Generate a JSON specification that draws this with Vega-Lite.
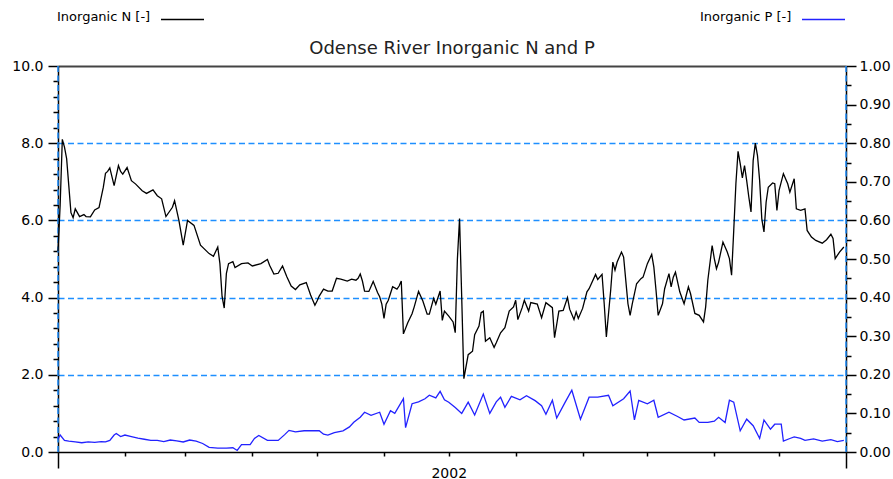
{
"$schema": "https://vega.github.io/schema/vega-lite/v6.json",
"width": 788, "height": 386,
"autosize": {"type": "none"},
"padding": {"left": 58, "top": 66, "right": 47, "bottom": 27},
"background": "white",
"config": {"view": {"stroke": null}, "font": "DejaVu Sans", "axis": {"labelFont": "DejaVu Sans", "labelColor": "#000", "domainColor": "#000", "tickColor": "#000"}},
"title": {"text": "Odense River Inorganic N and P", "fontSize": 18, "font": "DejaVu Sans", "fontWeight": "normal", "color": "#222", "offset": -61, "anchor": "middle"},
"datasets": {
"N": [
{"date":"2002-01-01","N":5.2},{"date":"2002-01-02","N":6.4},{"date":"2002-01-03","N":8.1},{"date":"2002-01-04","N":7.9},{"date":"2002-01-05","N":7.6},{"date":"2002-01-06","N":6.9},{"date":"2002-01-07","N":6.2},{"date":"2002-01-08","N":6.07},{"date":"2002-01-09","N":6.3},{"date":"2002-01-11","N":6.1},{"date":"2002-01-13","N":6.15},{"date":"2002-01-14","N":6.1},{"date":"2002-01-16","N":6.09},{"date":"2002-01-18","N":6.27},{"date":"2002-01-20","N":6.33},{"date":"2002-01-22","N":6.86},{"date":"2002-01-23","N":7.22},{"date":"2002-01-24","N":7.27},{"date":"2002-01-25","N":7.36},{"date":"2002-01-27","N":6.9},{"date":"2002-01-29","N":7.42},{"date":"2002-01-30","N":7.27},{"date":"2002-01-31","N":7.2},
{"date":"2002-02-02","N":7.37},{"date":"2002-02-04","N":7.03},{"date":"2002-02-06","N":6.94},{"date":"2002-02-09","N":6.77},{"date":"2002-02-11","N":6.7},{"date":"2002-02-14","N":6.79},{"date":"2002-02-16","N":6.64},{"date":"2002-02-18","N":6.56},{"date":"2002-02-20","N":6.1},{"date":"2002-02-23","N":6.34},{"date":"2002-02-24","N":6.51},{"date":"2002-02-26","N":6.0},{"date":"2002-02-28","N":5.36},
{"date":"2002-03-02","N":6.0},{"date":"2002-03-05","N":5.87},{"date":"2002-03-08","N":5.36},{"date":"2002-03-12","N":5.14},{"date":"2002-03-14","N":5.07},{"date":"2002-03-16","N":5.31},{"date":"2002-03-17","N":4.88},{"date":"2002-03-18","N":4.03},{"date":"2002-03-19","N":3.73},{"date":"2002-03-20","N":4.63},{"date":"2002-03-21","N":4.88},{"date":"2002-03-23","N":4.93},{"date":"2002-03-24","N":4.78},{"date":"2002-03-27","N":4.88},{"date":"2002-03-30","N":4.9},
{"date":"2002-04-01","N":4.82},{"date":"2002-04-05","N":4.88},{"date":"2002-04-08","N":4.99},{"date":"2002-04-09","N":4.84},{"date":"2002-04-11","N":4.61},{"date":"2002-04-13","N":4.63},{"date":"2002-04-15","N":4.82},{"date":"2002-04-17","N":4.54},{"date":"2002-04-19","N":4.3},{"date":"2002-04-21","N":4.21},{"date":"2002-04-23","N":4.33},{"date":"2002-04-26","N":4.39},{"date":"2002-04-28","N":4.07},{"date":"2002-04-30","N":3.8},
{"date":"2002-05-01","N":3.91},{"date":"2002-05-02","N":4.04},{"date":"2002-05-04","N":4.22},{"date":"2002-05-06","N":4.17},{"date":"2002-05-08","N":4.17},{"date":"2002-05-10","N":4.5},{"date":"2002-05-12","N":4.48},{"date":"2002-05-15","N":4.43},{"date":"2002-05-17","N":4.48},{"date":"2002-05-19","N":4.45},{"date":"2002-05-20","N":4.5},{"date":"2002-05-21","N":4.61},{"date":"2002-05-22","N":4.43},{"date":"2002-05-23","N":4.17},{"date":"2002-05-25","N":4.16},{"date":"2002-05-27","N":4.42},{"date":"2002-05-29","N":4.13},{"date":"2002-05-30","N":4.02},{"date":"2002-05-31","N":3.83},
{"date":"2002-06-01","N":3.46},{"date":"2002-06-02","N":3.83},{"date":"2002-06-03","N":3.93},{"date":"2002-06-05","N":4.28},{"date":"2002-06-07","N":4.22},{"date":"2002-06-08","N":4.3},{"date":"2002-06-09","N":4.43},{"date":"2002-06-10","N":3.06},{"date":"2002-06-12","N":3.35},{"date":"2002-06-14","N":3.58},{"date":"2002-06-15","N":3.76},{"date":"2002-06-17","N":4.16},{"date":"2002-06-19","N":3.91},{"date":"2002-06-21","N":3.57},{"date":"2002-06-22","N":3.57},{"date":"2002-06-24","N":3.98},{"date":"2002-06-25","N":3.83},{"date":"2002-06-27","N":4.17},{"date":"2002-06-28","N":3.41},{"date":"2002-06-29","N":3.65},
{"date":"2002-07-01","N":3.52},{"date":"2002-07-03","N":3.37},{"date":"2002-07-04","N":3.09},{"date":"2002-07-05","N":5.0},{"date":"2002-07-06","N":6.05},{"date":"2002-07-07","N":4.0},{"date":"2002-07-08","N":1.9},{"date":"2002-07-10","N":2.52},{"date":"2002-07-12","N":2.61},{"date":"2002-07-13","N":3.04},{"date":"2002-07-15","N":3.26},{"date":"2002-07-16","N":3.61},{"date":"2002-07-17","N":3.65},{"date":"2002-07-18","N":2.87},{"date":"2002-07-20","N":2.96},{"date":"2002-07-22","N":2.71},{"date":"2002-07-23","N":2.83},{"date":"2002-07-25","N":3.09},{"date":"2002-07-27","N":3.22},{"date":"2002-07-29","N":3.65},{"date":"2002-07-31","N":3.76},
{"date":"2002-08-01","N":3.93},{"date":"2002-08-02","N":3.43},{"date":"2002-08-04","N":3.74},{"date":"2002-08-05","N":3.93},{"date":"2002-08-07","N":3.65},{"date":"2002-08-08","N":3.87},{"date":"2002-08-11","N":3.83},{"date":"2002-08-13","N":3.48},{"date":"2002-08-15","N":3.87},{"date":"2002-08-18","N":3.74},{"date":"2002-08-19","N":2.96},{"date":"2002-08-21","N":3.65},{"date":"2002-08-23","N":3.67},{"date":"2002-08-25","N":4.0},{"date":"2002-08-26","N":3.7},{"date":"2002-08-28","N":3.43},{"date":"2002-08-29","N":3.63},{"date":"2002-08-30","N":3.46},
{"date":"2002-09-01","N":3.72},{"date":"2002-09-03","N":4.15},{"date":"2002-09-04","N":4.23},{"date":"2002-09-07","N":4.6},{"date":"2002-09-08","N":4.47},{"date":"2002-09-10","N":4.6},{"date":"2002-09-11","N":3.84},{"date":"2002-09-12","N":2.98},{"date":"2002-09-14","N":4.19},{"date":"2002-09-15","N":4.92},{"date":"2002-09-16","N":4.71},{"date":"2002-09-17","N":4.92},{"date":"2002-09-19","N":5.18},{"date":"2002-09-20","N":5.05},{"date":"2002-09-22","N":3.84},{"date":"2002-09-23","N":3.54},{"date":"2002-09-24","N":3.84},{"date":"2002-09-26","N":4.36},{"date":"2002-09-28","N":4.49},{"date":"2002-09-29","N":4.53},
{"date":"2002-10-01","N":4.88},{"date":"2002-10-03","N":5.12},{"date":"2002-10-04","N":4.79},{"date":"2002-10-05","N":4.19},{"date":"2002-10-06","N":3.54},{"date":"2002-10-08","N":3.84},{"date":"2002-10-09","N":4.23},{"date":"2002-10-11","N":4.62},{"date":"2002-10-12","N":4.28},{"date":"2002-10-13","N":4.53},{"date":"2002-10-14","N":4.66},{"date":"2002-10-16","N":4.15},{"date":"2002-10-18","N":3.84},{"date":"2002-10-20","N":4.28},{"date":"2002-10-21","N":4.1},{"date":"2002-10-23","N":3.59},{"date":"2002-10-25","N":3.54},{"date":"2002-10-27","N":3.37},{"date":"2002-10-28","N":3.76},{"date":"2002-10-29","N":4.45},{"date":"2002-10-31","N":5.35},
{"date":"2002-11-01","N":5.01},{"date":"2002-11-02","N":4.75},{"date":"2002-11-03","N":4.92},{"date":"2002-11-05","N":5.44},{"date":"2002-11-07","N":5.18},{"date":"2002-11-08","N":5.01},{"date":"2002-11-09","N":4.58},{"date":"2002-11-10","N":5.74},{"date":"2002-11-11","N":6.95},{"date":"2002-11-12","N":7.79},{"date":"2002-11-13","N":7.47},{"date":"2002-11-14","N":7.1},{"date":"2002-11-15","N":7.42},{"date":"2002-11-16","N":7.03},{"date":"2002-11-17","N":6.6},{"date":"2002-11-18","N":6.22},{"date":"2002-11-19","N":7.55},{"date":"2002-11-20","N":8.0},{"date":"2002-11-21","N":7.68},{"date":"2002-11-22","N":7.03},{"date":"2002-11-23","N":6.04},{"date":"2002-11-24","N":5.7},{"date":"2002-11-25","N":6.47},{"date":"2002-11-26","N":6.86},{"date":"2002-11-28","N":6.97},{"date":"2002-11-29","N":6.95},{"date":"2002-11-30","N":6.26},
{"date":"2002-12-01","N":6.78},{"date":"2002-12-03","N":7.21},{"date":"2002-12-05","N":6.95},{"date":"2002-12-06","N":6.73},{"date":"2002-12-08","N":7.08},{"date":"2002-12-09","N":6.3},{"date":"2002-12-11","N":6.26},{"date":"2002-12-13","N":6.3},{"date":"2002-12-14","N":5.74},{"date":"2002-12-16","N":5.57},{"date":"2002-12-18","N":5.48},{"date":"2002-12-21","N":5.41},{"date":"2002-12-23","N":5.5},{"date":"2002-12-25","N":5.64},{"date":"2002-12-26","N":5.53},{"date":"2002-12-27","N":5.01},{"date":"2002-12-29","N":5.18},{"date":"2002-12-31","N":5.31}
],
"P": [
{"date":"2002-01-01","P":0.033},{"date":"2002-01-02","P":0.044},{"date":"2002-01-04","P":0.03},{"date":"2002-01-06","P":0.028},{"date":"2002-01-09","P":0.026},{"date":"2002-01-12","P":0.024},{"date":"2002-01-15","P":0.026},{"date":"2002-01-18","P":0.025},{"date":"2002-01-21","P":0.027},{"date":"2002-01-23","P":0.026},{"date":"2002-01-25","P":0.03},{"date":"2002-01-27","P":0.044},{"date":"2002-01-28","P":0.048},{"date":"2002-01-30","P":0.04},
{"date":"2002-02-01","P":0.044},{"date":"2002-02-04","P":0.04},{"date":"2002-02-07","P":0.036},{"date":"2002-02-10","P":0.033},{"date":"2002-02-13","P":0.03},{"date":"2002-02-16","P":0.03},{"date":"2002-02-19","P":0.027},{"date":"2002-02-22","P":0.031},{"date":"2002-02-25","P":0.029},{"date":"2002-02-28","P":0.026},
{"date":"2002-03-03","P":0.031},{"date":"2002-03-06","P":0.028},{"date":"2002-03-09","P":0.022},{"date":"2002-03-12","P":0.012},{"date":"2002-03-16","P":0.01},{"date":"2002-03-20","P":0.01},{"date":"2002-03-23","P":0.011},{"date":"2002-03-25","P":0.004},{"date":"2002-03-27","P":0.019},{"date":"2002-03-31","P":0.019},
{"date":"2002-04-02","P":0.035},{"date":"2002-04-04","P":0.043},{"date":"2002-04-08","P":0.03},{"date":"2002-04-13","P":0.03},{"date":"2002-04-16","P":0.045},{"date":"2002-04-18","P":0.056},{"date":"2002-04-21","P":0.052},{"date":"2002-04-25","P":0.055},
{"date":"2002-05-02","P":0.055},{"date":"2002-05-04","P":0.046},{"date":"2002-05-06","P":0.044},{"date":"2002-05-09","P":0.05},{"date":"2002-05-13","P":0.055},{"date":"2002-05-16","P":0.065},{"date":"2002-05-18","P":0.077},{"date":"2002-05-21","P":0.09},{"date":"2002-05-23","P":0.103},{"date":"2002-05-26","P":0.095},{"date":"2002-05-30","P":0.103},
{"date":"2002-06-01","P":0.072},{"date":"2002-06-04","P":0.107},{"date":"2002-06-06","P":0.1},{"date":"2002-06-10","P":0.138},{"date":"2002-06-11","P":0.063},{"date":"2002-06-14","P":0.125},{"date":"2002-06-17","P":0.13},{"date":"2002-06-20","P":0.138},{"date":"2002-06-22","P":0.147},{"date":"2002-06-25","P":0.14},{"date":"2002-06-27","P":0.157},{"date":"2002-06-29","P":0.135},
{"date":"2002-07-01","P":0.129},{"date":"2002-07-04","P":0.115},{"date":"2002-07-07","P":0.1},{"date":"2002-07-10","P":0.129},{"date":"2002-07-13","P":0.096},{"date":"2002-07-17","P":0.15},{"date":"2002-07-20","P":0.1},{"date":"2002-07-23","P":0.13},{"date":"2002-07-25","P":0.142},{"date":"2002-07-27","P":0.116},{"date":"2002-07-30","P":0.144},
{"date":"2002-08-03","P":0.135},{"date":"2002-08-06","P":0.146},{"date":"2002-08-10","P":0.133},{"date":"2002-08-13","P":0.12},{"date":"2002-08-15","P":0.098},{"date":"2002-08-18","P":0.134},{"date":"2002-08-20","P":0.088},{"date":"2002-08-24","P":0.13},{"date":"2002-08-27","P":0.16},{"date":"2002-08-31","P":0.085},
{"date":"2002-09-04","P":0.142},{"date":"2002-09-08","P":0.142},{"date":"2002-09-13","P":0.147},{"date":"2002-09-15","P":0.12},{"date":"2002-09-20","P":0.138},{"date":"2002-09-23","P":0.158},{"date":"2002-09-25","P":0.083},{"date":"2002-09-27","P":0.134},
{"date":"2002-10-01","P":0.125},{"date":"2002-10-04","P":0.134},{"date":"2002-10-06","P":0.09},{"date":"2002-10-11","P":0.103},{"date":"2002-10-15","P":0.092},{"date":"2002-10-18","P":0.083},{"date":"2002-10-23","P":0.088},{"date":"2002-10-25","P":0.0765},{"date":"2002-10-29","P":0.0765},
{"date":"2002-11-01","P":0.08},{"date":"2002-11-03","P":0.09},{"date":"2002-11-06","P":0.0765},{"date":"2002-11-08","P":0.134},{"date":"2002-11-10","P":0.129},{"date":"2002-11-13","P":0.055},{"date":"2002-11-16","P":0.085},{"date":"2002-11-19","P":0.068},{"date":"2002-11-22","P":0.035},{"date":"2002-11-24","P":0.083},{"date":"2002-11-27","P":0.059},{"date":"2002-11-29","P":0.072},
{"date":"2002-12-02","P":0.072},{"date":"2002-12-03","P":0.028},{"date":"2002-12-06","P":0.035},{"date":"2002-12-08","P":0.039},{"date":"2002-12-11","P":0.035},{"date":"2002-12-13","P":0.03},{"date":"2002-12-17","P":0.034},{"date":"2002-12-21","P":0.028},{"date":"2002-12-25","P":0.032},{"date":"2002-12-28","P":0.027},{"date":"2002-12-31","P":0.03}
],
"edges": [{"date": "2002-01-01"}, {"date": "2003-01-01"}]
},
"layer": [
{
"data": {"name": "edges"},
"mark": {"type": "rule", "color": "#1E8FFF", "strokeDash": [6, 3.5], "strokeWidth": 1.5},
"encoding": {
"x": {"field": "date", "type": "temporal",
 "scale": {"type": "utc", "domain": [{"year": 2002, "month": 1, "date": 1, "utc": true}, {"year": 2003, "month": 1, "date": 1, "utc": true}]},
 "axis": {"orient": "bottom", "title": null,
  "values": [{"year":2002,"month":1,"date":1,"utc":true},{"year":2002,"month":2,"date":1,"utc":true},{"year":2002,"month":3,"date":1,"utc":true},{"year":2002,"month":4,"date":1,"utc":true},{"year":2002,"month":5,"date":1,"utc":true},{"year":2002,"month":6,"date":1,"utc":true},{"year":2002,"month":7,"date":1,"utc":true},{"year":2002,"month":8,"date":1,"utc":true},{"year":2002,"month":9,"date":1,"utc":true},{"year":2002,"month":10,"date":1,"utc":true},{"year":2002,"month":11,"date":1,"utc":true},{"year":2002,"month":12,"date":1,"utc":true},{"year":2003,"month":1,"date":1,"utc":true}],
  "tickSize": {"condition": {"test": "utcmonth(datum.value)==0", "value": 16}, "value": 4},
  "tickWidth": 1.5,
  "labelExpr": "utcmonth(datum.value)==6 ? '2002' : ''",
  "labelPadding": 10, "labelFontSize": 14, "labelOverlap": false, "labelFlush": false,
  "domainWidth": 1.5,
  "grid": false}
}
}
},
{
"data": {"name": "N"},
"mark": {"type": "line", "strokeWidth": 1.3},
"encoding": {
"x": {"field": "date", "type": "temporal"},
"y": {"field": "N", "type": "quantitative",
 "scale": {"domain": [0, 10], "nice": false},
 "axis": {"orient": "left", "title": null,
  "values": [0,0.4,0.8,1.2,1.6,2,2.4,2.8,3.2,3.6,4,4.4,4.8,5.2,5.6,6,6.4,6.8,7.2,7.6,8,8.4,8.8,9.2,9.6,10],
  "labelExpr": "datum.value % 2 == 0 ? format(datum.value, '.1f') : ''",
  "tickSize": {"condition": {"test": "datum.value % 2 == 0", "value": 10}, "value": 5},
  "tickWidth": 1.5, "domainWidth": 1.5,
  "labelPadding": 5, "labelFontSize": 14, "labelOverlap": false, "labelFlush": false,
  "grid": true,
  "gridColor": {"condition": {"test": "datum.value == 10", "value": "#444444"}, "value": "#1E8FFF"},
  "gridDash": {"condition": {"test": "datum.value == 10", "value": [1, 0]}, "value": [6, 3.5]},
  "gridWidth": {"condition": {"test": "datum.value == 10", "value": 2}, "value": 1.5},
  "gridOpacity": {"condition": {"test": "datum.value % 2 == 0 && datum.value > 0", "value": 1}, "value": 0}}
},
"color": {"datum": "Inorganic N [-]", "scale": {"range": ["#000000"]},
 "legend": {"orient": "none", "legendX": -1, "legendY": -69, "title": "Inorganic N [-]", "titleOrient": "left", "titleFontSize": 13, "titleFontWeight": "normal", "titleFont": "DejaVu Sans", "titleColor": "#000", "titlePadding": 9, "titleBaseline": "top", "labelExpr": "''", "symbolType": "stroke", "symbolSize": 1849, "symbolStrokeWidth": 1.3, "padding": 0}}
}
},
{
"data": {"name": "P"},
"mark": {"type": "line", "strokeWidth": 1.3},
"encoding": {
"x": {"field": "date", "type": "temporal"},
"y": {"field": "P", "type": "quantitative",
 "scale": {"domain": [0, 1], "nice": false},
 "axis": {"orient": "right", "title": null,
  "values": [0,0.05,0.1,0.15,0.2,0.25,0.3,0.35,0.4,0.45,0.5,0.55,0.6,0.65,0.7,0.75,0.8,0.85,0.9,0.95,1],
  "labelExpr": "round(datum.value*100) % 10 == 0 ? format(datum.value, '.2f') : ''",
  "tickSize": {"condition": {"test": "round(datum.value*100) % 10 == 0", "value": 10}, "value": 5},
  "tickWidth": 1.5, "domainWidth": 1.5,
  "labelPadding": 3, "labelFontSize": 14, "labelOverlap": false, "labelFlush": false,
  "grid": false}
},
"color": {"datum": "Inorganic P [-]", "scale": {"range": ["#2222FF"]},
 "legend": {"orient": "none", "legendX": 642, "legendY": -69, "title": "Inorganic P [-]", "titleOrient": "left", "titleFontSize": 13, "titleFontWeight": "normal", "titleFont": "DejaVu Sans", "titleColor": "#000", "titlePadding": 9, "titleBaseline": "top", "labelExpr": "''", "symbolType": "stroke", "symbolSize": 1849, "symbolStrokeWidth": 1.3, "padding": 0}}
}
}
],
"resolve": {"scale": {"y": "independent", "color": "independent"}, "legend": {"color": "independent"}}
}
